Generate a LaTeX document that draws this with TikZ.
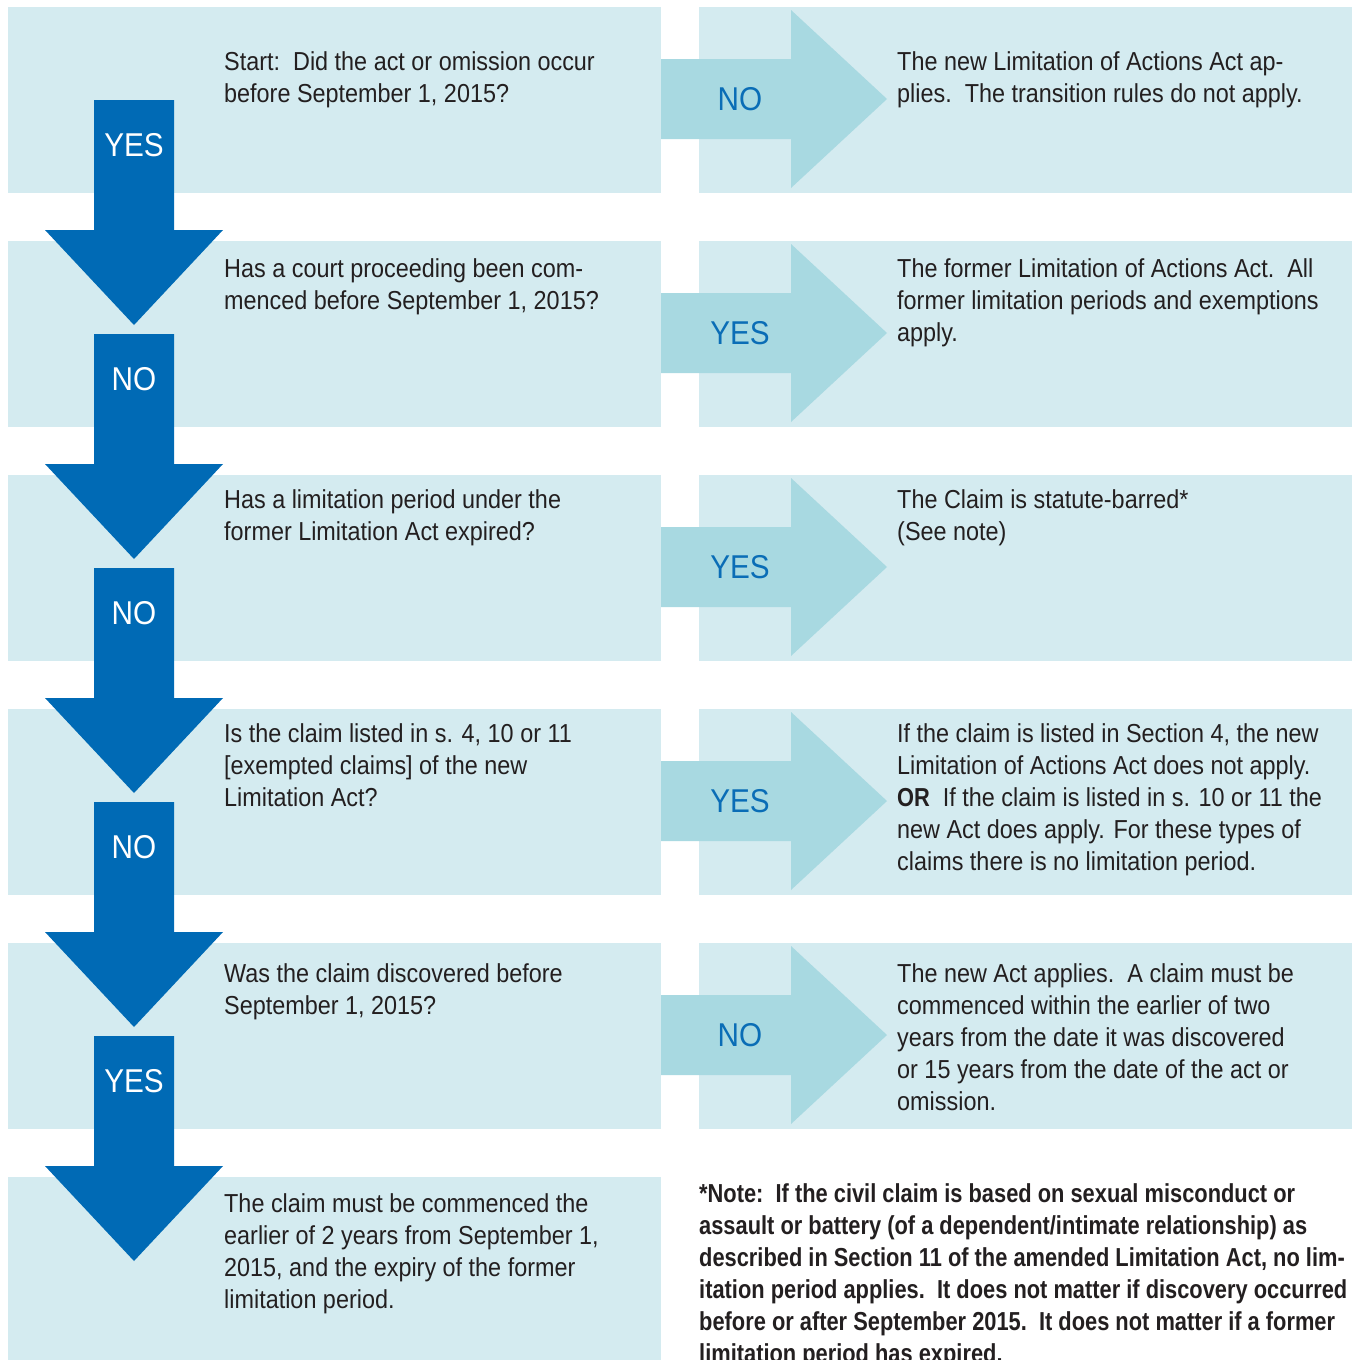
\documentclass[tikz,border=0pt]{standalone}
\usepackage{fontspec}
\setmainfont{Liberation Sans}[FakeStretch=0.9]
\newfontfamily\notafont{Liberation Sans}[FakeStretch=0.84]
\usepackage{tikz}
\usetikzlibrary{positioning}
\definecolor{celeste}{HTML}{D4EBF0}
\definecolor{turquesa}{HTML}{A8D9E1}
\definecolor{azulfuerte}{HTML}{006AB5}
\definecolor{azultexto}{HTML}{0A6DB6}
\definecolor{tinta}{HTML}{231F20}

\begin{document}
\begin{tikzpicture}[
    x=1pt,y=-1pt,
    box/.style={fill=celeste,inner sep=0pt,anchor=north west,
                minimum width=653pt,minimum height=186pt},
    txt/.style={tinta,align=left,anchor=north west,inner sep=0pt,
                font=\fontsize{26}{32}\selectfont},
    note/.style={txt,font=\notafont\fontsize{26}{32}\selectfont\bfseries},
    darrlab/.style={white,inner sep=0pt,font=\fontsize{33}{40}\selectfont},
    larrlab/.style={azultexto,inner sep=0pt,font=\fontsize{33}{40}\selectfont},
    darr/.pic={\fill[azulfuerte] (-40,0) -- (40,0) -- (40,130) -- (89,130)
                 -- (0,225) -- (-89,130) -- (-40,130) -- cycle;},
    larr/.pic={\fill[turquesa] (0,-40) -- (130,-40) -- (130,-89) -- (226,0)
                 -- (130,89) -- (130,40) -- (0,40) -- cycle;}]
  \useasboundingbox (0,0) rectangle (1353,1360);
  % --- cajas: preguntas a la izquierda, resultados a la derecha
  \node[box] (qb1) at (8,7) {};
  \node[box] (qb2) at (8,241) {};
  \node[box] (qb3) at (8,475) {};
  \node[box] (qb4) at (8,709) {};
  \node[box] (qb5) at (8,943) {};
  \node[box,minimum height=190pt] (qb6) at (8,1177) {};
  \node[box] (rb1) at (699,7) {};
  \node[box] (rb2) at (699,241) {};
  \node[box] (rb3) at (699,475) {};
  \node[box] (rb4) at (699,709) {};
  \node[box] (rb5) at (699,943) {};
  % flechas claras hacia la derecha
  \pic at (661,99) {larr};
  \pic at (661,333) {larr};
  \pic at (661,567) {larr};
  \pic at (661,801) {larr};
  \pic at (661,1035) {larr};
  \node[larrlab] (l1) at (740,99) {NO};
  \node[larrlab] (l2) at (740,333) {YES};
  \node[larrlab] (l3) at (740,567) {YES};
  \node[larrlab] (l4) at (740,801) {YES};
  \node[larrlab] (l5) at (740,1035) {NO};
  % flechas oscuras hacia abajo
  \pic at (134,100) {darr};
  \pic at (134,334) {darr};
  \pic at (134,568) {darr};
  \pic at (134,802) {darr};
  \pic at (134,1036) {darr};
  \node[darrlab] (d1) at (134,145) {YES};
  \node[darrlab] (d2) at (134,379) {NO};
  \node[darrlab] (d3) at (134,613) {NO};
  \node[darrlab] (d4) at (134,847) {NO};
  \node[darrlab] (d5) at (134,1081) {YES};
  % textos de las preguntas
  \node[txt] (q1) at (224,47.6)
    {\strut Start:\ \ Did the act or omission occur\\before September 1, 2015?};
  \node[txt] (q2) at (224,254.6)
    {\strut Has a court proceeding been com-\\menced before September 1, 2015?};
  \node[txt] (q3) at (224,485.6)
    {\strut Has a limitation period under the\\former Limitation Act expired?};
  \node[txt] (q4) at (224,719.6)
    {\strut Is the claim listed in s. 4, 10 or 11\\{[}exempted claims{]} of the new\\Limitation Act?};
  \node[txt] (q5) at (224,959.6)
    {\strut Was the claim discovered before\\September 1, 2015?};
  \node[txt] (q6) at (224,1189.6)
    {\strut The claim must be commenced the\\earlier of 2 years from September 1,\\2015, and the expiry of the former\\limitation period.};
  % textos de los resultados
  \node[txt] (r1) at (897,47.6)
    {\strut The new Limitation of Actions Act ap-\\plies.\ \ The transition rules do not apply.};
  \node[txt] (r2) at (897,254.6)
    {\strut The former Limitation of Actions Act.\ \ All\\former limitation periods and exemptions\\apply.};
  \node[txt] (r3) at (897,485.6)
    {\strut The Claim is statute-barred*\\(See note)};
  \node[txt] (r4) at (897,719.6)
    {\strut If the claim is listed in Section 4, the new\\Limitation of Actions Act does not apply.\\{\notafont\bfseries OR}\ \ If the claim is listed in s. 10 or 11 the\\new Act does apply. For these types of\\claims there is no limitation period.};
  \node[txt] (r5) at (897,959.6)
    {\strut The new Act applies.\ \ A claim must be\\commenced within the earlier of two\\years from the date it was discovered\\or 15 years from the date of the act or\\omission.};
  % nota al pie
  \node[note] (nota) at (699,1179.6)
    {\strut *Note:\ \ If the civil claim is based on sexual misconduct or\\assault or battery (of a dependent/intimate relationship) as\\described in Section 11 of the amended Limitation Act, no lim-\\itation period applies.\ \ It does not matter if discovery occurred\\before or after September 2015.\ \ It does not matter if a former\\limitation period has expired.};
\end{tikzpicture}
\end{document}
